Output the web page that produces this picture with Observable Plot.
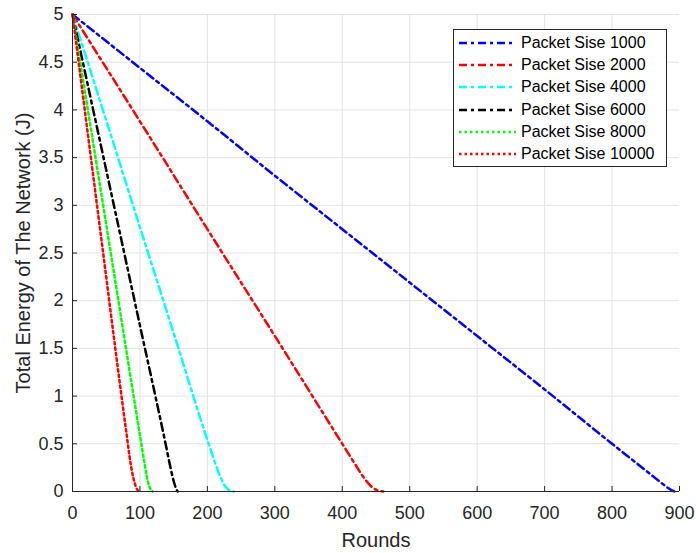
<!DOCTYPE html>
<html><head><meta charset="utf-8">
<script src="https://cdn.jsdelivr.net/npm/d3@7"></script>
<script src="https://cdn.jsdelivr.net/npm/@observablehq/plot@0.6"></script>
<style>
body{margin:0;background:#fff;}
#wrap{position:relative;width:696px;height:553px;font-family:"Liberation Sans",Arial,sans-serif;}
#legend{position:absolute;left:453px;top:29px;width:214px;height:138px;border:1px solid #262626;background:#fff;box-sizing:border-box;}
.row{position:absolute;left:4px;height:20px;display:flex;align-items:center;font-size:16px;color:#000;white-space:nowrap;}
.row svg{margin-right:5px;}
</style></head><body><div id="wrap"></div>
<script>
// Data
const seriesNames = ["Packet Sise 1000","Packet Sise 2000","Packet Sise 4000","Packet Sise 6000","Packet Sise 8000","Packet Sise 10000"];

const rounds1000 = [0,100,200,300,400,500,600,700,800,850,865,875,882,888,893];
const energy1000 = [5,4.44,3.88,3.31,2.75,2.19,1.63,1.07,0.5,0.22,0.135,0.08,0.042,0.015,0];

const rounds2000 = [0,100,200,300,400,420,430,438,445,452,461];
const energy2000 = [5,3.88,2.75,1.63,0.5,0.275,0.165,0.09,0.04,0.012,0];

const rounds4000 = [0,50,100,150,200,212,220,227,233,239];
const energy4000 = [5,3.89,2.77,1.66,0.54,0.29,0.14,0.05,0.01,0];

const rounds6000 = [0,50,100,138,145,150,153,156];
const energy6000 = [5,3.37,1.74,0.5,0.26,0.11,0.04,0];

const rounds8000 = [0,50,100,106,110,114,117,119];
const energy8000 = [5,2.8,0.59,0.33,0.16,0.05,0.01,0];

const rounds10000 = [0,40,80,86,90,94,97,99];
const energy10000 = [5,2.8,0.61,0.3,0.15,0.05,0.01,0];

const xTicks = [0,100,200,300,400,500,600,700,800,900];
const yTicks = [0,0.5,1,1.5,2,2.5,3,3.5,4,4.5,5];

// styles
const colors = ["#0000ff","#ff0000","#00ffff","#000000","#00ff00","#ff0000"];
const dashes = ["8,4,3,4","8,4,3,4","8,4,3,4","8,4,3,4","2.5,3","2.5,3"];

const roundsAll = [rounds1000,rounds2000,rounds4000,rounds6000,rounds8000,rounds10000];
const energyAll = [energy1000,energy2000,energy4000,energy6000,energy8000,energy10000];
const tables = roundsAll.map((r,i)=>r.map((x,j)=>({series:seriesNames[i], round:x, energy:energyAll[i][j]})));

const axisColor = "#262626";
const gridColor = "#e3e3e3";

const chart = Plot.plot({
  width: 696, height: 553,
  marginLeft: 72, marginRight: 17, marginTop: 14, marginBottom: 62,
  x: {domain: [0, 900]},
  y: {domain: [0, 5]},
  style: {fontFamily: "'Liberation Sans', Arial, sans-serif", background: "white", color: axisColor},
  marks: [
    Plot.gridX(xTicks.filter(d => d > 0 && d < 900), {stroke: gridColor, strokeOpacity: 1}),
    Plot.gridY(yTicks.filter(d => d > 0), {stroke: gridColor, strokeOpacity: 1}),
    ...tables.map((t,i) => Plot.line(t, {x: "round", y: "energy", stroke: colors[i], strokeWidth: 2.5, strokeDasharray: dashes[i], curve: "monotone-x"})),
    Plot.ruleX([0], {stroke: axisColor}),
    Plot.ruleY([0], {stroke: axisColor}),
    Plot.axisX(xTicks, {tickSize: -5, tickPadding: 20, fontSize: 18, label: null, stroke: axisColor, fill: axisColor, tickFormat: d => String(d)}),
    Plot.axisY(yTicks, {tickSize: -5, tickPadding: 14, fontSize: 18, label: null, stroke: axisColor, fill: axisColor, tickFormat: d => String(d)}),
    Plot.text(["Rounds"], {frameAnchor: "bottom", dy: 55, lineAnchor: "bottom", textAnchor: "middle", fontSize: 20, fill: axisColor}),
    Plot.text(["Total Energy of The Network (J)"], {frameAnchor: "left", dx: -43, lineAnchor: "bottom", textAnchor: "middle", rotate: -90, fontSize: 20, fill: axisColor})
  ]
});
const wrap = document.getElementById("wrap");
wrap.appendChild(chart);

const legend = document.createElement("div");
legend.id = "legend";
seriesNames.forEach((name,i) => {
  const row = document.createElement("div");
  row.className = "row";
  row.style.top = (3 + i*22.2) + "px";
  row.innerHTML = `<svg width="58" height="6"><line x1="1" y1="3" x2="58" y2="3" stroke="${colors[i]}" stroke-width="2.5" stroke-dasharray="${dashes[i]}"/></svg><span>${name}</span>`;
  legend.appendChild(row);
});
wrap.appendChild(legend);
</script>
</body></html>
